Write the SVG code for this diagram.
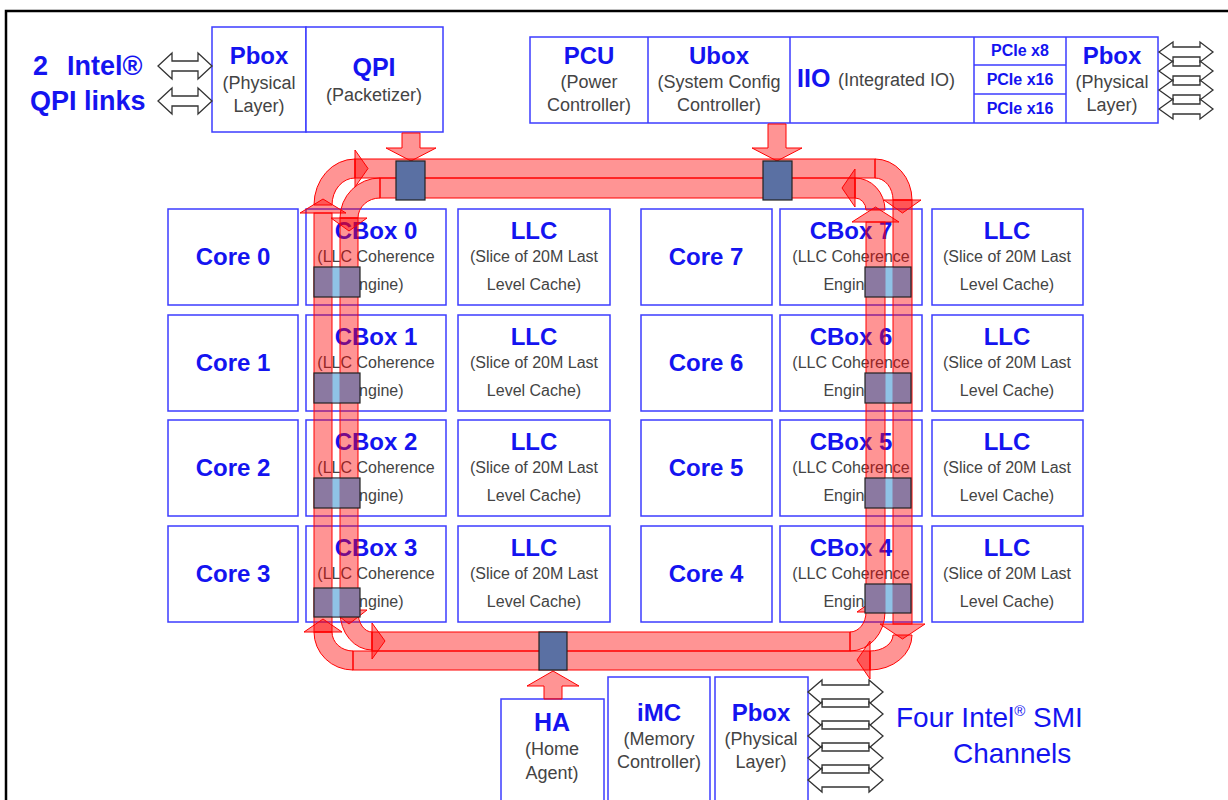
<svg xmlns="http://www.w3.org/2000/svg" width="1228" height="800" viewBox="0 0 1228 800">
<style>
.box{fill:#fff;stroke:#3c3cff;stroke-width:1.5}
.t{font-family:"Liberation Sans",Arial,sans-serif;font-weight:bold;fill:#1414f0;text-anchor:middle}
.s{font-family:"Liberation Sans",Arial,sans-serif;fill:#444;text-anchor:middle;font-size:18px}
.g{font-family:"Liberation Sans",Arial,sans-serif;fill:#444;text-anchor:middle;font-size:16px}
.lane{fill:#ff0000;fill-opacity:0.42;stroke:#ff0000;stroke-width:1}
.stop{fill:#5a70a3;stroke:#222;stroke-width:1.2}
.stopv{fill:#8b79a1;stroke:#222;stroke-width:1.2}
.gap{fill:#8fc3e6}
.hollow{fill:#fff;stroke:#333;stroke-width:1.3}
</style>
<rect width="1228" height="800" fill="#fff"/>
<path d="M6 800 V11 H1228" fill="none" stroke="#000" stroke-width="2.5"/>

<g id="qpi-label">
<text x="33" y="75" class="t" style="text-anchor:start;font-size:27px">2</text>
<text x="67" y="75" class="t" style="text-anchor:start;font-size:27px">Intel®</text>
<text x="30" y="110" class="t" style="text-anchor:start;font-size:27px">QPI links</text>
</g>
<g id="qpi-pbox">
<rect x="212" y="27" width="94" height="105" class="box"/>
<text x="259" y="64" class="t" font-size="24">Pbox</text>
<text x="259" y="89" class="s">(Physical</text>
<text x="259" y="112" class="s">Layer)</text>
</g>
<g id="qpi">
<rect x="306" y="27" width="137" height="105" class="box"/>
<text x="374" y="76" class="t" font-size="25">QPI</text>
<text x="374" y="101" class="s">(Packetizer)</text>
</g>

<g id="uncore-top">
<rect x="530" y="37" width="628" height="86" class="box"/>
<path d="M648 37V123M790 37V123M974 37V123M1066 37V123M974 65H1066M974 94H1066" stroke="#3c3cff" stroke-width="1.5" fill="none"/>
</g>
<g id="pcu">
<text x="589" y="64" class="t" font-size="24">PCU</text>
<text x="589" y="88" class="s">(Power</text>
<text x="589" y="111" class="s">Controller)</text>
</g>
<g id="ubox">
<text x="719" y="64" class="t" font-size="24">Ubox</text>
<text x="719" y="88" class="s">(System Config</text>
<text x="719" y="111" class="s">Controller)</text>
</g>
<g id="iio">
<text x="797" y="87" class="t" font-size="25" style="text-anchor:start">IIO</text>
<text x="838" y="86" class="s" style="text-anchor:start">(Integrated IO)</text>
</g>
<g id="pcie">
<text x="1020" y="56" class="t" font-size="16">PCIe x8</text>
<text x="1020" y="85" class="t" font-size="16">PCIe x16</text>
<text x="1020" y="114" class="t" font-size="16">PCIe x16</text>
</g>
<g id="io-pbox">
<text x="1112" y="64" class="t" font-size="24">Pbox</text>
<text x="1112" y="88" class="s">(Physical</text>
<text x="1112" y="111" class="s">Layer)</text>
</g>

<g id="row0">
<rect x="168" y="209" width="130" height="96" class="box"/><text x="233" y="265" class="t" font-size="24">Core 0</text>
<rect x="306" y="209" width="140" height="96" class="box"/><text x="376" y="239" class="t" font-size="24">CBox 0</text><text x="376" y="262" class="g">(LLC Coherence</text><text x="376" y="290" class="g">Engine)</text>
<rect x="458" y="209" width="152" height="96" class="box"/><text x="534" y="239" class="t" font-size="24">LLC</text><text x="534" y="262" class="g">(Slice of 20M Last</text><text x="534" y="290" class="g">Level Cache)</text>
<rect x="641" y="209" width="131" height="96" class="box"/><text x="706" y="265" class="t" font-size="24">Core 7</text>
<rect x="780" y="209" width="142" height="96" class="box"/><text x="851" y="239" class="t" font-size="24">CBox 7</text><text x="851" y="262" class="g">(LLC Coherence</text><text x="851" y="290" class="g">Engine)</text>
<rect x="932" y="209" width="151" height="96" class="box"/><text x="1007" y="239" class="t" font-size="24">LLC</text><text x="1007" y="262" class="g">(Slice of 20M Last</text><text x="1007" y="290" class="g">Level Cache)</text>
</g>
<g id="row1">
<rect x="168" y="315" width="130" height="96" class="box"/><text x="233" y="371" class="t" font-size="24">Core 1</text>
<rect x="306" y="315" width="140" height="96" class="box"/><text x="376" y="345" class="t" font-size="24">CBox 1</text><text x="376" y="368" class="g">(LLC Coherence</text><text x="376" y="396" class="g">Engine)</text>
<rect x="458" y="315" width="152" height="96" class="box"/><text x="534" y="345" class="t" font-size="24">LLC</text><text x="534" y="368" class="g">(Slice of 20M Last</text><text x="534" y="396" class="g">Level Cache)</text>
<rect x="641" y="315" width="131" height="96" class="box"/><text x="706" y="371" class="t" font-size="24">Core 6</text>
<rect x="780" y="315" width="142" height="96" class="box"/><text x="851" y="345" class="t" font-size="24">CBox 6</text><text x="851" y="368" class="g">(LLC Coherence</text><text x="851" y="396" class="g">Engine)</text>
<rect x="932" y="315" width="151" height="96" class="box"/><text x="1007" y="345" class="t" font-size="24">LLC</text><text x="1007" y="368" class="g">(Slice of 20M Last</text><text x="1007" y="396" class="g">Level Cache)</text>
</g>
<g id="row2">
<rect x="168" y="420" width="130" height="96" class="box"/><text x="233" y="476" class="t" font-size="24">Core 2</text>
<rect x="306" y="420" width="140" height="96" class="box"/><text x="376" y="450" class="t" font-size="24">CBox 2</text><text x="376" y="473" class="g">(LLC Coherence</text><text x="376" y="501" class="g">Engine)</text>
<rect x="458" y="420" width="152" height="96" class="box"/><text x="534" y="450" class="t" font-size="24">LLC</text><text x="534" y="473" class="g">(Slice of 20M Last</text><text x="534" y="501" class="g">Level Cache)</text>
<rect x="641" y="420" width="131" height="96" class="box"/><text x="706" y="476" class="t" font-size="24">Core 5</text>
<rect x="780" y="420" width="142" height="96" class="box"/><text x="851" y="450" class="t" font-size="24">CBox 5</text><text x="851" y="473" class="g">(LLC Coherence</text><text x="851" y="501" class="g">Engine)</text>
<rect x="932" y="420" width="151" height="96" class="box"/><text x="1007" y="450" class="t" font-size="24">LLC</text><text x="1007" y="473" class="g">(Slice of 20M Last</text><text x="1007" y="501" class="g">Level Cache)</text>
</g>
<g id="row3">
<rect x="168" y="526" width="130" height="96" class="box"/><text x="233" y="582" class="t" font-size="24">Core 3</text>
<rect x="306" y="526" width="140" height="96" class="box"/><text x="376" y="556" class="t" font-size="24">CBox 3</text><text x="376" y="579" class="g">(LLC Coherence</text><text x="376" y="607" class="g">Engine)</text>
<rect x="458" y="526" width="152" height="96" class="box"/><text x="534" y="556" class="t" font-size="24">LLC</text><text x="534" y="579" class="g">(Slice of 20M Last</text><text x="534" y="607" class="g">Level Cache)</text>
<rect x="641" y="526" width="131" height="96" class="box"/><text x="706" y="582" class="t" font-size="24">Core 4</text>
<rect x="780" y="526" width="142" height="96" class="box"/><text x="851" y="556" class="t" font-size="24">CBox 4</text><text x="851" y="579" class="g">(LLC Coherence</text><text x="851" y="607" class="g">Engine)</text>
<rect x="932" y="526" width="151" height="96" class="box"/><text x="1007" y="556" class="t" font-size="24">LLC</text><text x="1007" y="579" class="g">(Slice of 20M Last</text><text x="1007" y="607" class="g">Level Cache)</text>
</g>

<g id="ha">
<rect x="501" y="699" width="103" height="110" class="box"/>
<text x="552" y="731" class="t" font-size="25">HA</text>
<text x="552" y="755" class="s">(Home</text>
<text x="552" y="779" class="s">Agent)</text>
</g>
<g id="imc">
<rect x="608" y="677" width="102" height="130" class="box"/>
<text x="659" y="721" class="t" font-size="24">iMC</text>
<text x="659" y="745" class="s">(Memory</text>
<text x="659" y="768" class="s">Controller)</text>
</g>
<g id="mem-pbox">
<rect x="715" y="677" width="93" height="130" class="box"/>
<text x="761" y="721" class="t" font-size="24">Pbox</text>
<text x="761" y="745" class="s">(Physical</text>
<text x="761" y="768" class="s">Layer)</text>
</g>
<g id="smi-label">
<text x="896" y="727" style="font-family:'Liberation Sans',Arial,sans-serif;font-size:28px;fill:#1414f0">Four Intel<tspan font-size="15" dy="-11">®</tspan><tspan dy="11"> SMI</tspan></text>
<text x="953" y="763" style="font-family:'Liberation Sans',Arial,sans-serif;font-size:28px;fill:#1414f0">Channels</text>
</g>

<g id="connectors">
<g id="links">
<polygon class="hollow" points="158,66 172,53 172,61 198,61 198,53 212,66 198,79 198,71 172,71 172,79"/>
<polygon class="hollow" points="158,101 172,88 172,96 198,96 198,88 212,101 198,114 198,106 172,106 172,114"/>
<polygon class="hollow" points="1159,52 1173,42 1173,47 1200,47 1200,42 1213,52 1200,62 1200,57 1173,57 1173,62"/>
<polygon class="hollow" points="1159,71 1173,61 1173,66 1200,66 1200,61 1213,71 1200,81 1200,76 1173,76 1173,81"/>
<polygon class="hollow" points="1159,90 1173,80 1173,85 1200,85 1200,80 1213,90 1200,100 1200,95 1173,95 1173,100"/>
<polygon class="hollow" points="1159,109 1173,99 1173,104 1200,104 1200,99 1213,109 1200,119 1200,114 1173,114 1173,119"/>
<polygon class="hollow" points="808,692 822,680 822,685 869,685 869,680 883,692 869,704 869,699 822,699 822,704"/>
<polygon class="hollow" points="808,714 822,702 822,707 869,707 869,702 883,714 869,726 869,721 822,721 822,726"/>
<polygon class="hollow" points="808,736 822,724 822,729 869,729 869,724 883,736 869,748 869,743 822,743 822,748"/>
<polygon class="hollow" points="808,758 822,746 822,751 869,751 869,746 883,758 869,770 869,765 822,765 822,770"/>
<polygon class="hollow" points="808,780 822,768 822,773 869,773 869,768 883,780 869,792 869,787 822,787 822,792"/>
</g>
<g id="ring">
<rect class="lane" x="355" y="159" width="520" height="19"/>
<rect class="lane" x="893" y="200" width="19" height="424"/>
<rect class="lane" x="353" y="651" width="517" height="19"/>
<rect class="lane" x="314" y="213" width="18" height="419"/>
<path class="lane" d="M314 205A41 46 0 0 1 355 159L355 178A23 27 0 0 0 332 205Z"/>
<path class="lane" d="M875 159A37 41 0 0 1 912 200L893 200A18 22 0 0 0 875 178Z"/>
<path class="lane" d="M912 635A42 35 0 0 1 870 670L870 651A23 16 0 0 0 893 635Z"/>
<path class="lane" d="M353 670A39 38 0 0 1 314 632L332 632A21 19 0 0 0 353 651Z"/>
<polygon class="lane" points="300,213 323,199 346,213"/>
<polygon class="lane" points="880,624 902.5,639 925,624"/>
<polygon class="lane" points="355,150 368,168.5 355,187"/>
<polygon class="lane" points="884,200 902.5,213 921,200"/>
<polygon class="lane" points="870,641 857,660 870,679"/>
<polygon class="lane" points="304,632 323,619 342,632"/>
<rect class="lane" x="380" y="178" width="475" height="20"/>
<rect class="lane" x="340" y="218" width="18" height="392"/>
<rect class="lane" x="372" y="632" width="478" height="19"/>
<rect class="lane" x="866" y="222" width="19" height="390"/>
<path class="lane" d="M380 178A40 40 0 0 0 340 218L358 218A22 20 0 0 1 380 198Z"/>
<path class="lane" d="M340 612A32 38 0 0 0 372 650L372 632A14 20 0 0 1 358 612Z"/>
<path class="lane" d="M850 651A35 39 0 0 0 885 612L866 612A16 20 0 0 1 850 632Z"/>
<path class="lane" d="M885 210A30 32 0 0 0 855 178L855 198A11 12 0 0 1 866 210Z"/>
<polygon class="lane" points="852,222 875.5,207 899,222"/>
<polygon class="lane" points="331,610 349,624 367,610"/>
<polygon class="lane" points="331,218 349,231 367,218"/>
<polygon class="lane" points="372,623 385,641 372,659"/>
<polygon class="lane" points="857,612 875.5,599 894,612"/>
<polygon class="lane" points="855,169 842,188 855,207"/>
</g>
<g id="feeds">
<polygon class="lane" points="402,133 420,133 420,148 436,148 411,161 386,148 402,148"/>
<polygon class="lane" points="768,124 786,124 786,148 802,148 777,161 752,148 768,148"/>
<polygon class="lane" points="544,699 562,699 562,686 579,686 553,671 527,686 544,686"/>
</g>
<g id="stops">
<rect class="stop" x="396" y="161" width="29" height="39"/>
<rect class="stop" x="763" y="161" width="29" height="39"/>
<rect class="stop" x="539" y="632" width="28" height="38"/>
<g id="left-stops">
<rect class="stopv" x="314" y="267" width="46" height="30"/><rect class="gap" x="332.5" y="267.6" width="7" height="28.8"/>
<rect class="stopv" x="314" y="373" width="46" height="30"/><rect class="gap" x="332.5" y="373.6" width="7" height="28.8"/>
<rect class="stopv" x="314" y="478" width="46" height="30"/><rect class="gap" x="332.5" y="478.6" width="7" height="28.8"/>
<rect class="stopv" x="314" y="588" width="46" height="29"/><rect class="gap" x="332.5" y="588.6" width="7" height="27.8"/>
</g>
<g id="right-stops">
<rect class="stopv" x="865" y="267" width="46" height="30"/><rect class="gap" x="885.5" y="267.6" width="7" height="28.8"/>
<rect class="stopv" x="865" y="373" width="46" height="30"/><rect class="gap" x="885.5" y="373.6" width="7" height="28.8"/>
<rect class="stopv" x="865" y="478" width="46" height="30"/><rect class="gap" x="885.5" y="478.6" width="7" height="28.8"/>
<rect class="stopv" x="865" y="584" width="46" height="29"/><rect class="gap" x="885.5" y="584.6" width="7" height="27.8"/>
</g>
</g>
</g>
</svg>
